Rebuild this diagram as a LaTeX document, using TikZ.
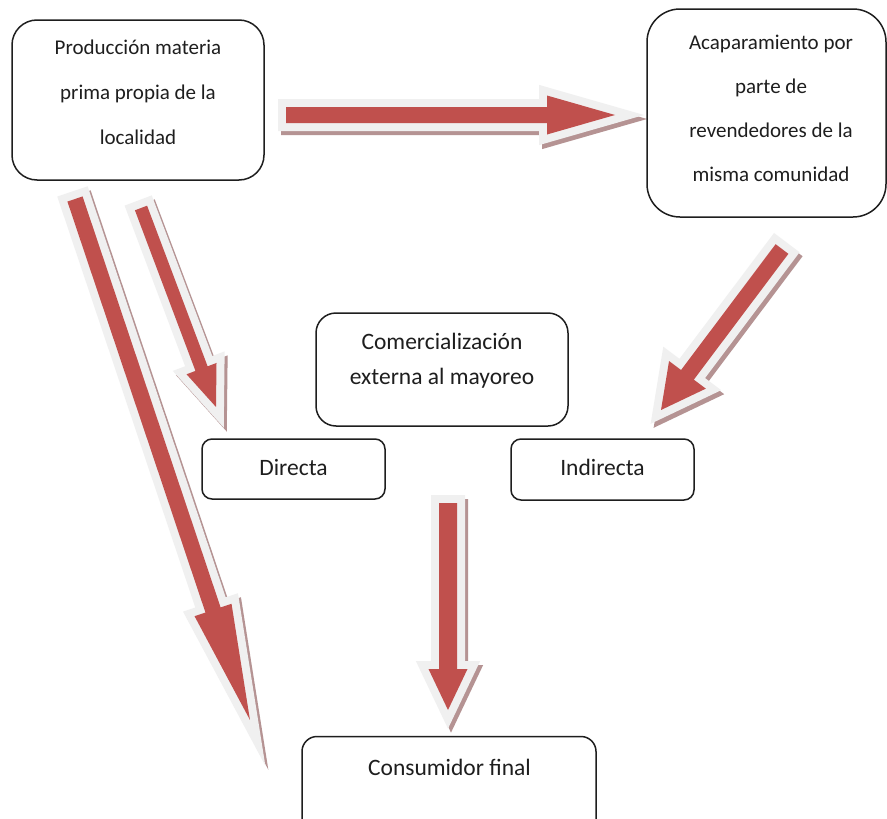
\documentclass[tikz,border=0pt]{standalone}
\usepackage{fontspec}
\setmainfont{Carlito}
\usetikzlibrary{calc}
\definecolor{arrred}{HTML}{C0504D}
\definecolor{arrgray}{HTML}{F0F0F0}
\definecolor{arrshad}{HTML}{B59393}
\definecolor{txt}{HTML}{1E1E1E}
\tikzset{
  box/.style={draw=txt, line width=1.5pt, inner sep=0pt, outer sep=0pt},
  lbl/.style={text=txt, align=center, inner sep=0pt},
  arrshadow/.style={fill=arrshad, draw=arrshad, line width=16pt, line join=miter, miter limit=12},
  arroutline/.style={fill=arrgray, draw=arrgray, line width=16pt, line join=miter, miter limit=12},
  arrfill/.style={fill=arrred}
}
% #1 from, #2 to, #3 shaft half width, #4 head half width, #5 head length
\newcommand\blockarrow[5]{%
  \path let \p1=(#1), \p2=(#2) in \pgfextra{%
    \pgfmathsetmacro\baAng{atan2(\y2-\y1,\x2-\x1)}%
    \pgfmathsetmacro\baLen{veclen(\x2-\x1,\y2-\y1)}%
    \xdef\baA{\baAng}\xdef\baL{\baLen}\xdef\baX{\x1}\xdef\baY{\y1}};
  \begin{scope}[shift={(\baX+3pt,\baY-4pt)}, rotate=\baA]
    \filldraw[arrshadow] (0,#3) -- (\baL-#5,#3) -- (\baL-#5,#4) -- (\baL,0) -- (\baL-#5,-#4) -- (\baL-#5,-#3) -- (0,-#3) -- cycle;
  \end{scope}
  \begin{scope}[shift={(\baX,\baY)}, rotate=\baA]
    \filldraw[arroutline] (0,#3) -- (\baL-#5,#3) -- (\baL-#5,#4) -- (\baL,0) -- (\baL-#5,-#4) -- (\baL-#5,-#3) -- (0,-#3) -- cycle;
    \fill[arrfill] (0,#3) -- (\baL-#5,#3) -- (\baL-#5,#4) -- (\baL,0) -- (\baL-#5,-#4) -- (\baL-#5,-#3) -- (0,-#3) -- cycle;
  \end{scope}
}
\begin{document}
\begin{tikzpicture}[x=1pt, y=-1pt]
\useasboundingbox[fill=white] (0,0) rectangle (887,819);

% arrow end points
\coordinate (a1s) at (286,115);  \coordinate (a1e) at (615,115);
\coordinate (a2s) at (448,503);  \coordinate (a2e) at (448,710);
\coordinate (a3s) at (782,249);  \coordinate (a3e) at (661,410);
\coordinate (a4s) at (141,208);  \coordinate (a4e) at (216,407);
\coordinate (a5s) at (75,199);   \coordinate (a5e) at (250,720);

\blockarrow{a1s}{a1e}{8}{19.5}{68}
\blockarrow{a2s}{a2e}{9}{19.5}{41}
\blockarrow{a3s}{a3e}{8}{23}{44}
\blockarrow{a4s}{a4e}{6.5}{16}{41}
\blockarrow{a5s}{a5e}{8}{19.5}{116}

% boxes
\node[box, rounded corners=25pt, minimum width=252pt, minimum height=160pt] (prod) at (138,100) {};
\node[box, rounded corners=33pt, minimum width=239pt, minimum height=208pt] (acap) at (766.5,113) {};
\node[box, rounded corners=20pt, minimum width=252pt, minimum height=113pt] (com) at (442,369.5) {};
\node[box, rounded corners=10pt, minimum width=183pt, minimum height=60pt] (dir) at (293.5,469) {};
\node[box, rounded corners=10pt, minimum width=183pt, minimum height=61pt] (ind) at (602.5,469.5) {};
\node[box, rounded corners=15pt, minimum width=294pt, minimum height=103pt] (cons) at (449,788) {};

% texts
\node[lbl, font=\fontsize{21}{45}\selectfont] (prodt) at (138,92) {Producción materia\\prima propia de la\\localidad};
\node[lbl, font=\fontsize{21}{44}\selectfont] (acapt) at (771,108.5) {Acaparamiento por\\parte de\\revendedores de la\\misma comunidad};
\node[lbl, font=\fontsize{23.5}{35}\selectfont] (comt) at (442,361) {Comercialización\\externa al mayoreo};
\node[lbl, font=\fontsize{23.5}{28}\selectfont] (dirt) at (293.5,467) {Directa};
\node[lbl, font=\fontsize{23.5}{28}\selectfont] (indt) at (602.5,467) {Indirecta};
\node[lbl, font=\fontsize{23.5}{28}\selectfont] (const) at (449.5,767) {Consumidor final};
\end{tikzpicture}
\end{document}
